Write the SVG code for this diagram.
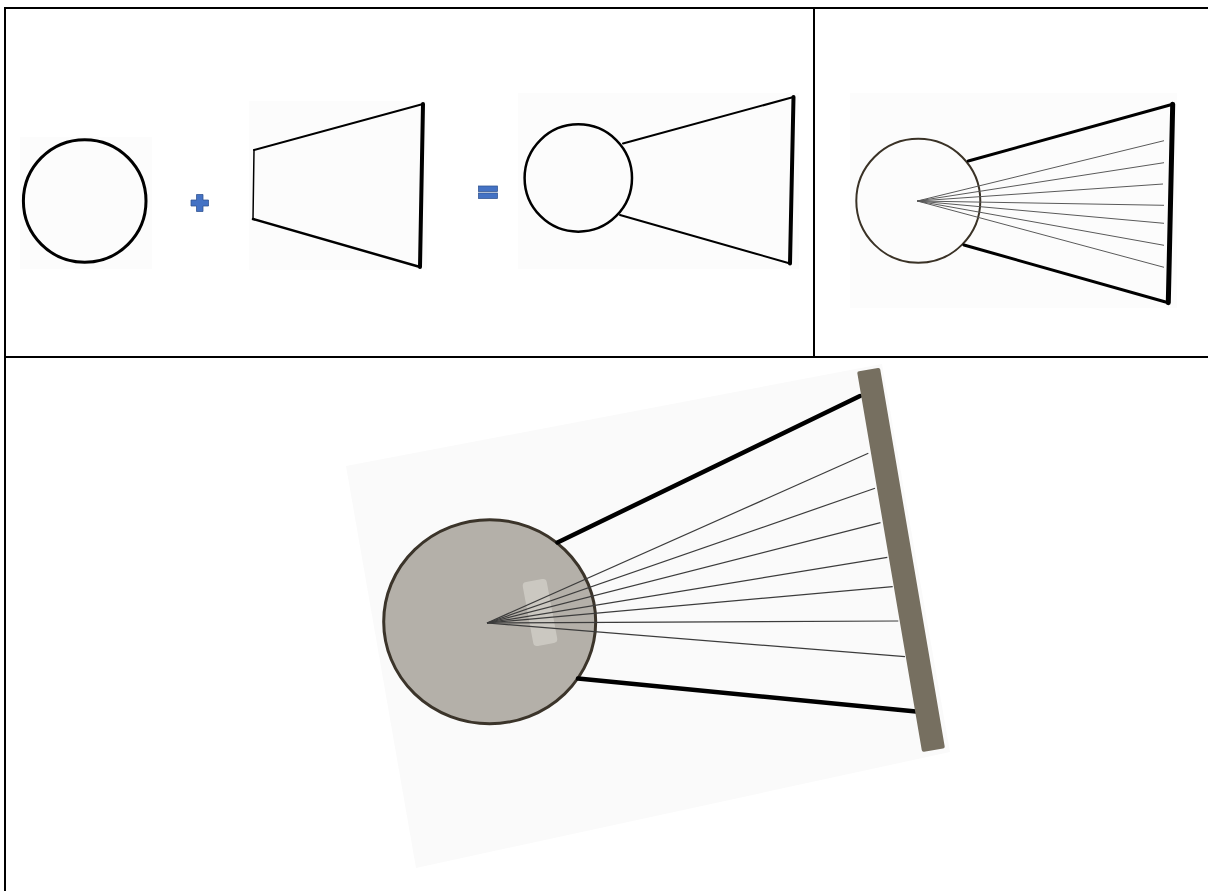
<svg xmlns="http://www.w3.org/2000/svg" width="1208" height="891" viewBox="0 0 1208 891">
  <style>
    .grid { stroke: #000; stroke-width: 2; fill: none; }
    .bg { fill: #fcfcfc; stroke: none; }
    .op { fill: #4472c4; stroke: #2f528f; stroke-width: 0.75; }
    .ray { stroke: #5a5a5a; stroke-width: 1; fill: none; }
    .ray2 { stroke: #3c3c3c; stroke-width: 1.2; fill: none; }
    .edge { stroke: #000; fill: none; stroke-linecap: round; stroke-linejoin: round; }
  </style>
  <rect width="1208" height="891" fill="#fff"/>

  <g id="table">
    <line class="grid" x1="4" y1="8" x2="1208" y2="8"/>
    <line class="grid" x1="4" y1="357" x2="1208" y2="357"/>
    <line class="grid" x1="5" y1="7" x2="5" y2="891"/>
    <line class="grid" x1="814" y1="8" x2="814" y2="357"/>
  </g>

  <g id="circle-part">
    <rect class="bg" x="20" y="137" width="132" height="132"/>
    <circle cx="84.7" cy="201" r="61.3" fill="none" stroke="#000" stroke-width="3"/>
  </g>

  <g id="plus-sign">
    <path class="op" d="M196.5 194.5 H203 V200 H208.5 V206 H203 V211.5 H196.5 V206 H191 V200 H196.5 Z"/>
  </g>

  <g id="trapezoid-part">
    <rect class="bg" x="249" y="101" width="178" height="169"/>
    <line class="edge" x1="254" y1="150" x2="253" y2="219" stroke-width="1.5"/>
    <line class="edge" x1="254" y1="150" x2="423" y2="104" stroke-width="2"/>
    <line class="edge" x1="253" y1="219" x2="420" y2="267" stroke-width="2.5"/>
    <line class="edge" x1="423" y1="104" x2="420" y2="267" stroke-width="4"/>
  </g>

  <g id="equals-sign">
    <rect class="op" x="478.5" y="186" width="19" height="5.5"/>
    <rect class="op" x="478.5" y="193" width="19" height="5.5"/>
  </g>

  <g id="combined-shape">
    <rect class="bg" x="518" y="93" width="281" height="176"/>
    <circle cx="578.3" cy="178" r="53.7" fill="none" stroke="#000" stroke-width="2.5"/>
    <line class="edge" x1="623" y1="143.5" x2="793.5" y2="97" stroke-width="2"/>
    <line class="edge" x1="620" y1="215" x2="790" y2="263.5" stroke-width="2"/>
    <line class="edge" x1="793.5" y1="97" x2="790" y2="263.5" stroke-width="4"/>
  </g>

  <g id="fan-diagram">
    <rect class="bg" x="850" y="93" width="327" height="215"/>
    <circle cx="918.3" cy="200.8" r="62" fill="none" stroke="#3a3226" stroke-width="2"/>
    <g id="fan-rays">
      <line class="ray" x1="917.3" y1="201" x2="1164" y2="140.7"/>
      <line class="ray" x1="917.3" y1="201" x2="1164" y2="162.7"/>
      <line class="ray" x1="917.3" y1="201" x2="1163" y2="184"/>
      <line class="ray" x1="917.3" y1="201" x2="1164" y2="205.3"/>
      <line class="ray" x1="917.3" y1="201" x2="1164" y2="223.3"/>
      <line class="ray" x1="917.3" y1="201" x2="1164" y2="245.3"/>
      <line class="ray" x1="917.3" y1="201" x2="1164" y2="267.3"/>
    </g>
    <line class="edge" x1="968.3" y1="161" x2="1172.7" y2="104.3" stroke-width="3"/>
    <line class="edge" x1="964" y1="245" x2="1168.3" y2="302.7" stroke-width="3"/>
    <line class="edge" x1="1172.7" y1="104.3" x2="1168.3" y2="302.7" stroke-width="5"/>
  </g>

  <g id="rotated-fan">
    <polygon fill="#fafafa" points="346,466 882,364 950,752 416,868"/>
    <ellipse cx="489.7" cy="621.7" rx="106" ry="102" fill="#b4b0a9" stroke="#3b342a" stroke-width="3"/>
    <rect x="-12.2" y="-32.5" width="24.4" height="65" rx="4" fill="#cfccc6" opacity="0.85" transform="translate(540 612.5) rotate(-10.5)"/>
    <g id="rotated-rays">
      <line class="ray2" x1="487" y1="623" x2="868.3" y2="453.3"/>
      <line class="ray2" x1="487" y1="623" x2="875" y2="488.3"/>
      <line class="ray2" x1="487" y1="623" x2="880.5" y2="522.7"/>
      <line class="ray2" x1="487" y1="623" x2="887.3" y2="557.3"/>
      <line class="ray2" x1="487" y1="623" x2="892.7" y2="586.7"/>
      <line class="ray2" x1="487" y1="623" x2="898.3" y2="621"/>
      <line class="ray2" x1="487" y1="623" x2="905" y2="656.7"/>
    </g>
    <line class="edge" x1="557.5" y1="542.5" x2="860" y2="396" stroke-width="4.5"/>
    <line class="edge" x1="578" y1="678.5" x2="916" y2="711.5" stroke-width="4.5"/>
    <rect x="-11.6" y="-193" width="23.2" height="386" rx="2" fill="#766f60" transform="translate(901 559.8) rotate(-9.7)"/>
  </g>
</svg>
